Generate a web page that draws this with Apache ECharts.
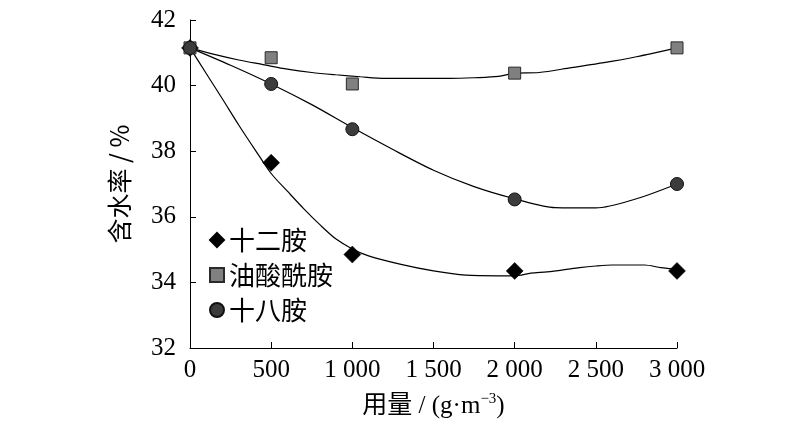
<!DOCTYPE html>
<html>
<head>
<meta charset="utf-8">
<title>含水率</title>
<script src="https://cdn.jsdelivr.net/npm/echarts@6/dist/echarts.min.js"></script>
<style>
  html, body { margin: 0; padding: 0; background: #fff; }
  #main { width: 800px; height: 430px; }
</style>
</head>
<body>
<div id="main"></div>
<script type="text/javascript">
    // 测点
    var doseX = [0, 500, 1000, 2000, 3000];
    var dodecylY = [41.15, 37.65, 34.85, 34.35, 34.35];
    var oleamideY = [41.15, 40.85, 40.05, 40.38, 41.15];
    var octadecylY = [41.15, 40.05, 38.67, 36.53, 37.0];

    // 拟合曲线
    var dodecylFitX = [0, 100, 200, 300, 400, 500, 600, 700, 800, 900, 1000, 1100, 1300, 1500, 1700, 1900, 2000, 2100, 2200, 2300, 2400, 2500, 2600, 2800, 2900, 3000];
    var dodecylFitY = [41.15, 40.37, 39.59, 38.8, 38.05, 37.32, 36.78, 36.25, 35.76, 35.32, 35.02, 34.81, 34.55, 34.35, 34.22, 34.2, 34.2, 34.28, 34.32, 34.38, 34.45, 34.5, 34.53, 34.53, 34.45, 34.4];
    var oleamideFitX = [0, 150, 300, 450, 600, 750, 900, 1050, 1200, 1400, 1600, 1750, 1900, 2000, 2150, 2350, 2550, 2750, 3000];
    var oleamideFitY = [41.15, 40.95, 40.78, 40.64, 40.5, 40.4, 40.33, 40.27, 40.22, 40.22, 40.22, 40.24, 40.28, 40.38, 40.4, 40.55, 40.7, 40.88, 41.15];
    var octadecylFitX = [0, 250, 500, 750, 1000, 1250, 1500, 1750, 2000, 2250, 2500, 2750, 3000];
    var octadecylFitY = [41.15, 40.62, 40.05, 39.42, 38.72, 38.05, 37.42, 36.92, 36.55, 36.28, 36.27, 36.55, 37.0];

    var names = ['十二胺', '油酸酰胺', '十八胺'];
    var xTicks = ['0', '500', '1 000', '1 500', '2 000', '2 500', '3 000'];

    function pairs(xs, ys) {
        var out = [];
        for (var i = 0; i < xs.length; i++) {
            out.push([xs[i], ys[i]]);
        }
        return out;
    }

    function fitLine(xs, ys) {
        return {
            type: 'line',
            data: pairs(xs, ys),
            smooth: 0.3,
            showSymbol: false,
            silent: true,
            z: 1,
            lineStyle: { color: '#000', width: 1.2 }
        };
    }

    var serif = '"Liberation Serif", "Times New Roman", serif';
    var cjk = '"Noto Sans CJK SC", sans-serif';

    var myChart = echarts.init(document.getElementById('main'));
    var option = {
        animation: false,
        grid: { left: 190, right: 123, top: 20, bottom: 82 },
        legend: {
            orient: 'vertical',
            left: 204,
            top: 222,
            itemGap: 9,
            itemWidth: 14,
            itemHeight: 14,
            data: names,
            textStyle: { fontFamily: cjk, fontSize: 26, color: '#000' },
            selectedMode: false
        },
        xAxis: {
            type: 'value',
            min: 0,
            max: 3000,
            interval: 500,
            name: '{a|用量 / (g·m}{s|−3}{a|)}',
            nameLocation: 'middle',
            nameGap: 44,
            nameTextStyle: {
                rich: {
                    a: { fontFamily: serif + ',' + cjk, fontSize: 25, color: '#000' },
                    s: { fontFamily: serif, fontSize: 15, color: '#000', verticalAlign: 'top', padding: [0, 0, 14, 0] }
                }
            },
            axisLine: { lineStyle: { color: '#000', width: 1 } },
            axisTick: { inside: true, length: 6, lineStyle: { color: '#000' } },
            axisLabel: {
                fontFamily: serif,
                fontSize: 25,
                color: '#000',
                margin: 10,
                formatter: function (v) { return xTicks[Math.round(v / 500)]; }
            },
            splitLine: { show: false }
        },
        yAxis: {
            type: 'value',
            min: 32,
            max: 42,
            interval: 2,
            name: '含水率 / %',
            nameLocation: 'middle',
            nameGap: 58,
            nameTextStyle: { fontFamily: cjk, fontSize: 25, color: '#000' },
            axisLine: { show: true, lineStyle: { color: '#000', width: 1 } },
            axisTick: { show: true, inside: true, length: 6, lineStyle: { color: '#000' } },
            axisLabel: { fontFamily: serif, fontSize: 25, color: '#000', margin: 14 },
            splitLine: { show: false }
        },
        series: [
            fitLine(dodecylFitX, dodecylFitY),
            fitLine(oleamideFitX, oleamideFitY),
            fitLine(octadecylFitX, octadecylFitY),
            {
                name: names[0],
                type: 'scatter',
                symbol: 'diamond',
                symbolSize: 17,
                data: pairs(doseX, dodecylY),
                itemStyle: { color: '#000', borderColor: '#000', borderWidth: 0.5, opacity: 1 },
                z: 3
            },
            {
                name: names[1],
                type: 'scatter',
                symbol: 'rect',
                symbolSize: 12,
                data: pairs(doseX, oleamideY),
                itemStyle: { color: '#808080', borderColor: '#2a2a2a', borderWidth: 1, opacity: 1 },
                z: 4
            },
            {
                name: names[2],
                type: 'scatter',
                symbol: 'circle',
                symbolSize: 13,
                data: pairs(doseX, octadecylY),
                itemStyle: { color: '#3c3c3c', borderColor: '#111', borderWidth: 1, opacity: 1 },
                z: 5
            }
        ]
    };
    myChart.setOption(option);
</script>
</body>
</html>
